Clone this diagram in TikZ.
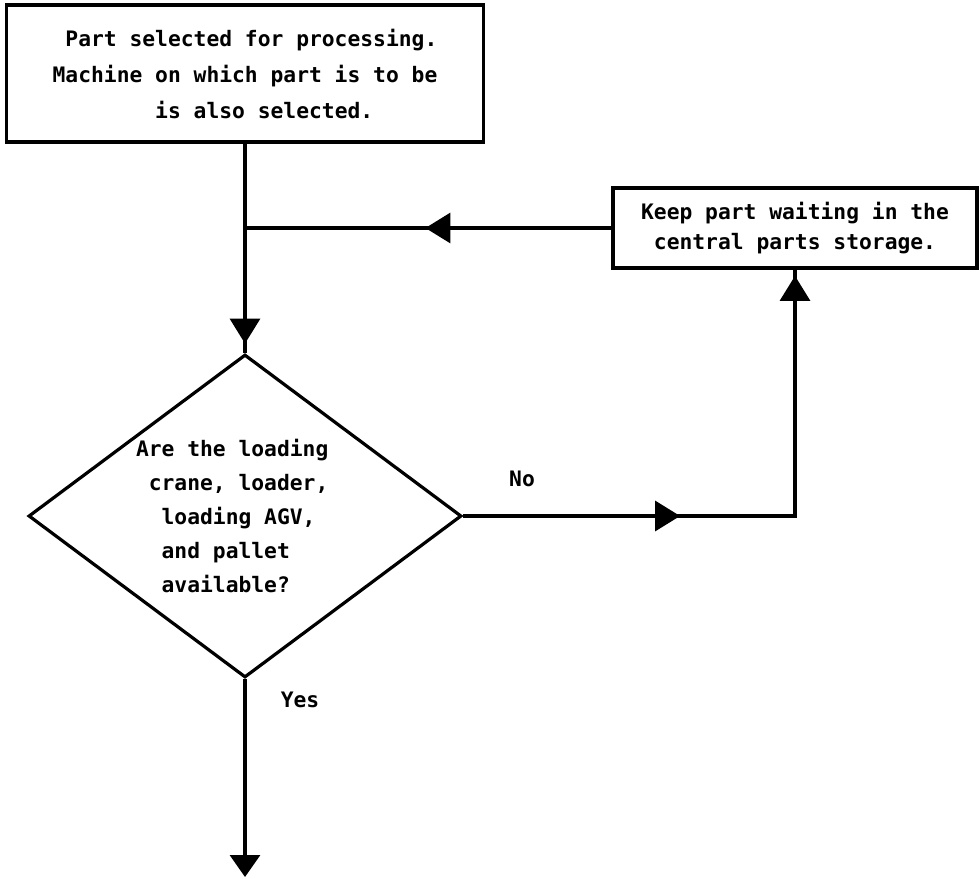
\documentclass[tikz,border=0pt]{standalone}
\usepackage{fontspec}
\newfontfamily\dotfont{DejaVu Sans Mono}
\usetikzlibrary{arrows.meta,decorations.markings,shapes.geometric}
\begin{document}
\begin{tikzpicture}[x=1pt,y=-1pt,
  line width=3.2pt,
  txt/.style={font=\dotfont\bfseries\fontsize{21.3pt}{#1}\selectfont},
  txt/.default=34pt,
  stepbox/.style={draw, rectangle, inner sep=0pt, align=left},
  decision/.style={draw, diamond, aspect=1.34, inner sep=0pt, align=left},
  tip/.style={-{Triangle[length=22pt,width=30pt]}},
  arrowat/.style={postaction={decorate, decoration={markings,
      mark=at position #1 with {\arrow{Triangle[length=25pt,width=30pt]}}}}}]
  \useasboundingbox (0,0) rectangle (979,878);

  % process boxes
  \node[stepbox, txt=36pt, minimum width=477pt, minimum height=137pt] (start) at (245,73.5)
    {\hphantom{x}Part selected for processing.\\
     Machine on which part is to be\\
     \hphantom{xxxxxxxx}is also selected.};
  \node[stepbox, txt=30pt, minimum width=364pt, minimum height=80pt] (keep) at (795,228)
    {Keep part waiting in the\\
     \hphantom{x}central parts storage.};

  % decision
  \node[decision, txt=34pt, minimum width=433pt, minimum height=323pt] (dec) at (245,516)
    {Are the loading\hphantom{xx}\\
     \hphantom{x}crane, loader,\\
     \hphantom{xx}loading AGV,\\
     \hphantom{xx}and pallet\\
     \hphantom{xx}available?};

  % branch labels
  \node[txt] (no) at (522,479) {No};
  \node[txt] (yes) at (300,700) {Yes};

  \coordinate (join) at (start.south |- keep.west);
  \coordinate (out) at (245,877);

  % connectors
  \draw[arrowat=200pt] (start.south) -- (dec.north);
  \draw[arrowat=186pt] (keep.west) -- (join);
  \draw[arrowat=217pt, arrowat=572pt] (dec.east) -| (keep.south);
  \draw[tip] (dec.south) -- (out);
\end{tikzpicture}
\end{document}
